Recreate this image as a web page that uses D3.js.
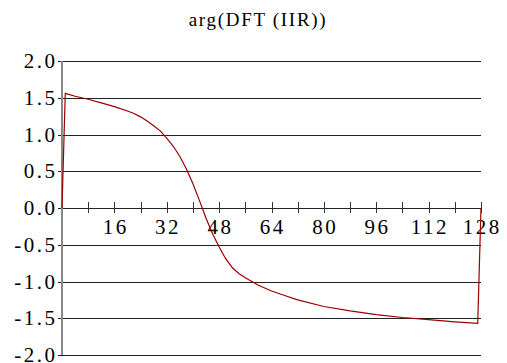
<!DOCTYPE html>
<html>
<head>
<meta charset="utf-8">
<script src="https://cdn.jsdelivr.net/npm/d3@7"></script>
<style>
  body { margin: 0; background: #fff; }
</style>
</head>
<body>
<div id="chart"></div>
<script>
// sample index (DFT bin) and phase
const bins  = [0, 1, 4, 8, 12, 16, 20, 22, 24, 26, 28, 30, 32, 34, 36, 38, 40, 42, 44, 46, 48, 50,
               52, 54, 56, 58, 60, 64, 68, 72, 80, 88, 96, 104, 112, 120, 127, 128];
const phase = [0, 1.56, 1.52, 1.48, 1.43, 1.38, 1.32, 1.285, 1.24, 1.185, 1.12, 1.05, 0.95, 0.84, 0.70, 0.53, 0.33, 0.10, -0.14, -0.35, -0.53, -0.69,
               -0.81, -0.89, -0.95, -1.00, -1.05, -1.13, -1.19, -1.25, -1.34, -1.40, -1.45, -1.49, -1.52, -1.55, -1.57, 0];
const xTicks = [16, 32, 48, 64, 80, 96, 112, 128];
const yTicks = [-2, -1.5, -1, -0.5, 0, 0.5, 1, 1.5, 2];

const FONT = "'Liberation Serif'";
const W = 507, H = 363;
const margin = {top: 61, right: 26, bottom: 8, left: 62},
    width = W - margin.left - margin.right,
    height = H - margin.top - margin.bottom;

const svg = d3.select("#chart")
  .append("svg")
    .attr("width", W)
    .attr("height", H);

svg.append("text")
    .attr("x", 258)
    .attr("y", 26)
    .attr("text-anchor", "middle")
    .style("font-family", FONT)
    .style("font-size", "19px")
    .style("letter-spacing", "1.7px")
    .text("arg(DFT (IIR))");

const g = svg.append("g")
    .attr("transform", "translate(" + margin.left + "," + margin.top + ")");

const x = d3.scaleLinear().domain([0, 128]).range([0, width]);
const y = d3.scaleLinear().domain([-2, 2]).range([height, 0]);

// horizontal grid
g.selectAll(".grid")
  .data(yTicks)
  .enter()
  .append("line")
    .attr("x1", -4)
    .attr("x2", width)
    .attr("y1", d => Math.round(y(d)) + 0.5)
    .attr("y2", d => Math.round(y(d)) + 0.5)
    .attr("stroke", "#222")
    .attr("stroke-width", 1);

// y axis line
g.append("line")
    .attr("x1", 0).attr("x2", 0)
    .attr("y1", 0).attr("y2", height)
    .attr("stroke", "#888")
    .attr("stroke-width", 2);

g.selectAll(".ylab")
  .data(yTicks)
  .enter()
  .append("text")
    .attr("x", -4.5)
    .attr("y", d => y(d))
    .attr("dy", "0.34em")
    .attr("text-anchor", "end")
    .style("font-family", FONT)
    .style("font-size", "21px")
    .style("letter-spacing", "2.5px")
    .text(d => d3.format(".1f")(d).replace("−", "-"));

// x axis on zero line, minor ticks every 8
const xAxis = g.append("g")
    .attr("transform", "translate(0," + y(0) + ")");

xAxis.selectAll(".tick")
  .data(d3.range(8, 129, 8))
  .enter()
  .append("line")
    .attr("x1", d => Math.round(x(d)) + 0.5)
    .attr("x2", d => Math.round(x(d)) + 0.5)
    .attr("y1", -6)
    .attr("y2", 5)
    .attr("stroke", "#333");

xAxis.selectAll(".xlab")
  .data(xTicks)
  .enter()
  .append("text")
    .attr("x", d => x(d) + 1.25)
    .attr("y", 25.5)
    .attr("text-anchor", "middle")
    .style("font-family", FONT)
    .style("font-size", "21px")
    .style("letter-spacing", "2.5px")
    .text(d => d);

const line = d3.line()
    .x((d, i) => x(bins[i]))
    .y(d => y(d));

g.append("path")
    .datum(phase)
    .attr("d", line)
    .attr("fill", "none")
    .attr("stroke", "#990000")
    .attr("stroke-width", 1.2);
</script>
</body>
</html>
